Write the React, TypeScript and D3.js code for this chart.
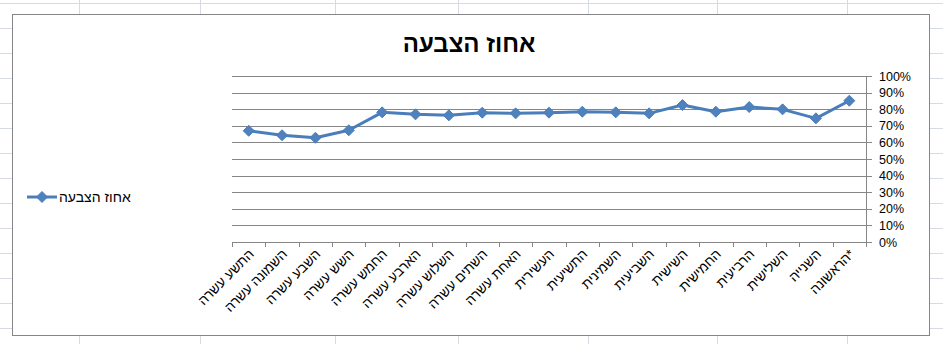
import React from "react";
import * as d3 from "d3";

const title = "אחוז הצבעה";
const seriesName = "אחוז הצבעה";
const categories = [
  "התשע עשרה",
  "השמונה עשרה",
  "השבע עשרה",
  "השש עשרה",
  "החמש עשרה",
  "הארבע עשרה",
  "השלוש עשרה",
  "השתים עשרה",
  "האחת עשרה",
  "העשירית",
  "התשיעית",
  "השמינית",
  "השביעית",
  "השישית",
  "החמישית",
  "הרביעית",
  "השלישית",
  "השנייה",
  "\u200F*הראשונה",
];
const values = [67.0, 64.3, 62.8, 67.3, 78.1, 76.9, 76.3, 77.9, 77.5, 77.9, 78.5, 78.1, 77.5, 82.5, 78.5, 81.3, 79.9, 74.5, 85.1];
const yTicks = [0, 10, 20, 30, 40, 50, 60, 70, 80, 90, 100];

const W = 943;
const H = 344;
const sheetCols = [79, 200, 335, 458, 588, 717, 847];
const sheetRows = d3.range(3, H, 25);

const plot = { left: 232, right: 866, top: 76, bottom: 242 };
const font = "'Liberation Sans', 'DejaVu Sans', Arial, sans-serif";
const blue = "#4A7EBB";
const markerBlue = "#4F81BD";
const axisGray = "#868686";
const R = 5.5;
const diamond = `M0,${-R}L${R},0L0,${R}L${-R},0Z`;

export default function App() {
  const x = d3.scaleBand<string>().domain(categories).range([plot.left, plot.right]).padding(0);
  const y = d3.scaleLinear().domain([0, 100]).range([plot.bottom, plot.top]);
  const cx = (i: number) => (x(categories[i]) as number) + x.bandwidth() / 2;
  const line = d3
    .line<number>()
    .x((_, i) => cx(i))
    .y((d) => y(d));

  return (
    <svg width={W} height={H} style={{ position: "absolute", left: 0, top: 0, background: "#fff" }}>
      {/* spreadsheet grid */}
      <g stroke="#d6dae2" strokeWidth={1}>
        {sheetCols.map((c) => (
          <line key={"c" + c} x1={c + 0.5} x2={c + 0.5} y1={0} y2={H} />
        ))}
        {sheetRows.map((r) => (
          <line key={"r" + r} x1={0} x2={W} y1={r + 0.5} y2={r + 0.5} />
        ))}
      </g>
      {/* chart area */}
      <rect x={12.5} y={14.5} width={917} height={321} fill="#fff" stroke={axisGray} strokeWidth={1} />
      <text x={469} y={51.5} textAnchor="middle" fontFamily={font} fontWeight="bold" fontSize={24} fill="#000">
        {title}
      </text>
      {/* gridlines */}
      <g stroke={axisGray} strokeWidth={1}>
        {yTicks.map((t) => (
          <line key={t} x1={plot.left} x2={plot.right + 6} y1={Math.round(y(t)) + 0.5} y2={Math.round(y(t)) + 0.5} />
        ))}
        <line x1={plot.right + 0.5} x2={plot.right + 0.5} y1={plot.top} y2={plot.bottom + 1} />
        {categories.map((c, i) => (
          <line
            key={"t" + i}
            x1={Math.round(x(c) as number) + 0.5}
            x2={Math.round(x(c) as number) + 0.5}
            y1={plot.bottom}
            y2={plot.bottom + 5}
          />
        ))}
        <line x1={plot.right + 0.5} x2={plot.right + 0.5} y1={plot.bottom} y2={plot.bottom + 5} />
      </g>
      {/* y labels */}
      {yTicks.map((t) => (
        <text key={"yl" + t} x={879} y={y(t) + 4.5} fontFamily={font} fontSize={12.5} fill="#000">
          {t + "%"}
        </text>
      ))}
      {/* x labels */}
      {categories.map((c, i) => (
        <text
          key={"xl" + i}
          transform={`translate(${cx(i) + 6},${plot.bottom + 13}) rotate(-45)`}
          textAnchor="end"
          fontFamily={font}
          fontSize={13.5}
          fill="#000"
        >
          {c}
        </text>
      ))}
      {/* series */}
      <path d={line(values) as string} fill="none" stroke={blue} strokeWidth={3} strokeLinejoin="round" />
      {values.map((v, i) => (
        <path key={"m" + i} d={diamond} transform={`translate(${cx(i)},${y(v)})`} fill={markerBlue} stroke={blue} strokeWidth={1} />
      ))}
      {/* legend */}
      <line x1={27} x2={57} y1={197} y2={197} stroke={blue} strokeWidth={3} />
      <path d={diamond} transform="translate(42,197)" fill={markerBlue} stroke={blue} strokeWidth={1} />
      <text x={59} y={202} fontFamily={font} fontSize={14} fill="#000">
        {seriesName}
      </text>
    </svg>
  );
}
